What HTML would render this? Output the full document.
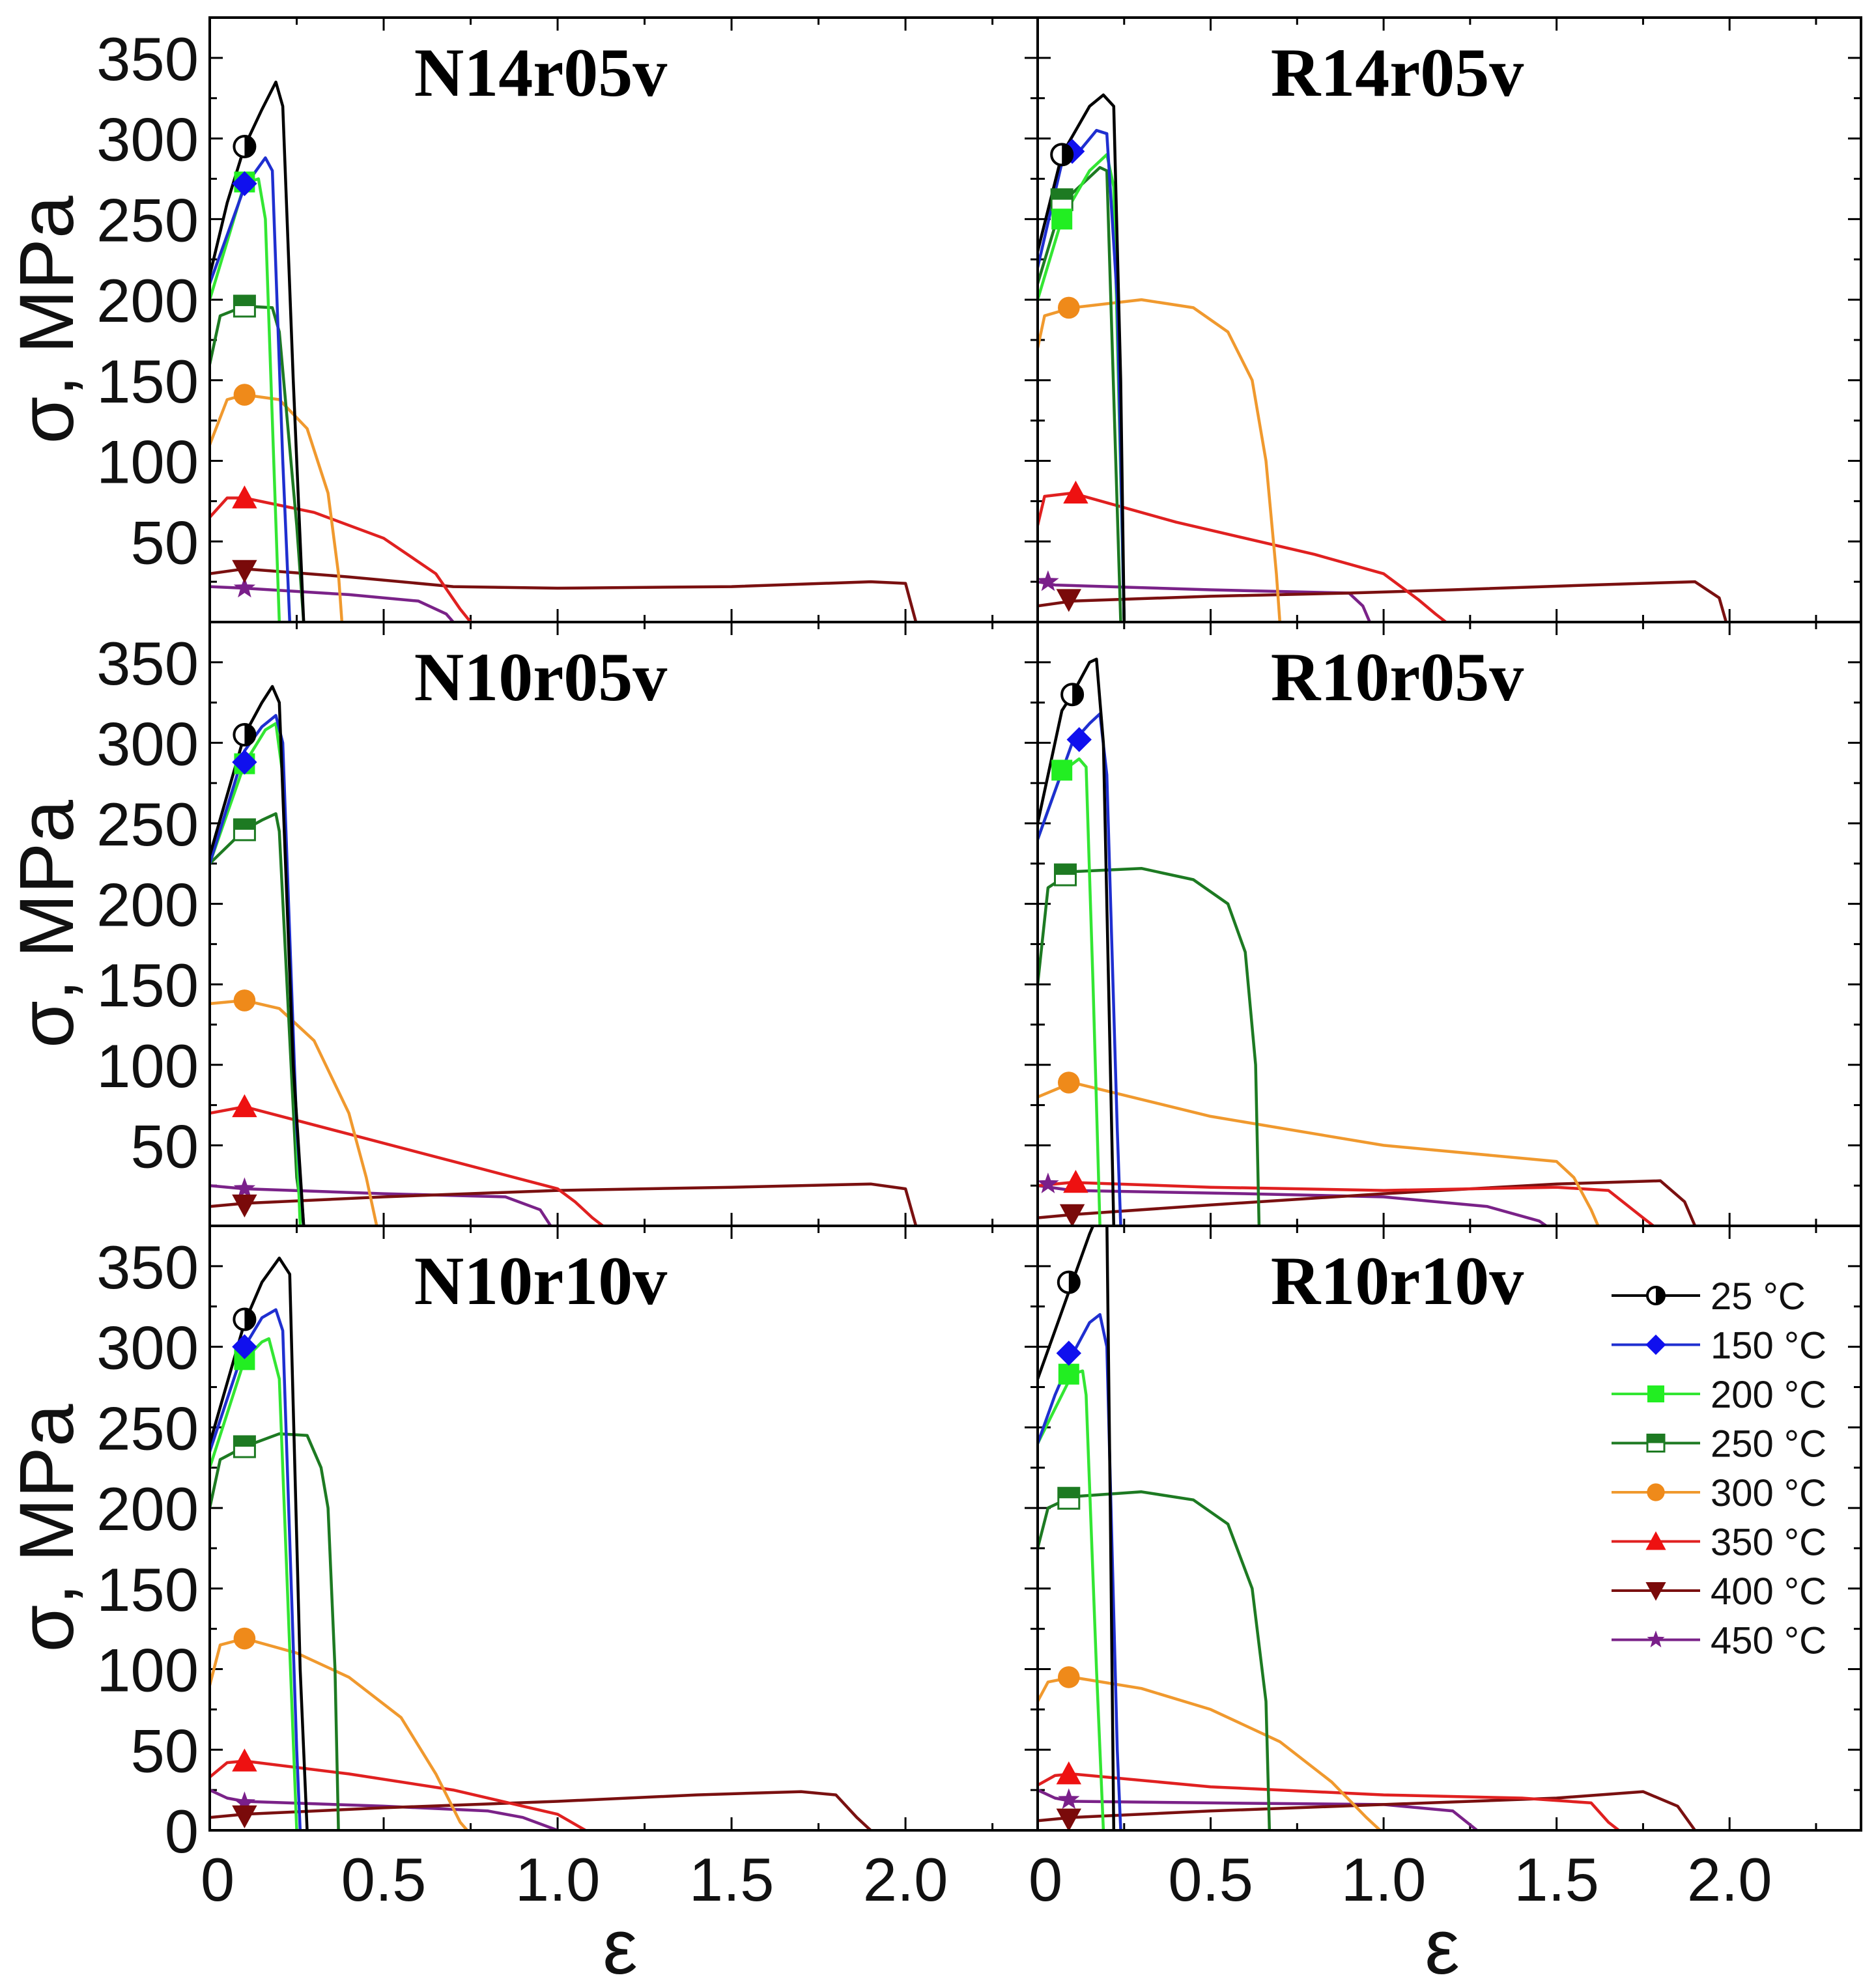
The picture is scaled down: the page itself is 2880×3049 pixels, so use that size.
<!DOCTYPE html>
<html><head><meta charset="utf-8">
<style>
html,body{margin:0;padding:0;background:#fff;}
svg{display:block;}
text{font-family:"Liberation Sans",Arial,sans-serif;}
.ttl{font-family:"Liberation Serif",serif;font-weight:bold;font-size:106px;}
.tick{font-size:94px;fill:#111;}
.leg{font-size:58px;fill:#111;}
</style></head>
<body>
<svg id="chart" width="2880" height="3049" viewBox="0 0 2880 3049" xmlns="http://www.w3.org/2000/svg">
</svg>
<script>
// ---- data ----
const temps = ["25 °C","150 °C","200 °C","250 °C","300 °C","350 °C","400 °C","450 °C"];
const colors = ["#000000","#1f2fd0","#33e633","#1d7a22","#f0992e","#e02020","#7a1010","#7a2288"];
const yTicks = [0,50,100,150,200,250,300,350];
const xTicks = [0,0.5,1.0,1.5,2.0];
const xTickLabels = ["0","0.5","1.0","1.5","2.0"];
const panelNames = ["N14r05v","R14r05v","N10r05v","R10r05v","N10r10v","R10r10v"];

const N14r05v = [
 [[0,215],[0.05,260],[0.1,295],[0.15,318],[0.19,335],[0.21,320],[0.24,150],[0.27,0]],
 [[0,210],[0.1,270],[0.16,288],[0.18,280],[0.21,100],[0.23,0]],
 [[0,200],[0.1,272],[0.14,275],[0.16,250],[0.2,0]],
 [[0,160],[0.03,190],[0.1,196],[0.18,195],[0.2,180],[0.25,60],[0.27,0]],
 [[0,110],[0.05,138],[0.1,141],[0.2,138],[0.28,120],[0.34,80],[0.37,30],[0.38,0]],
 [[0,65],[0.05,77],[0.1,77],[0.3,68],[0.5,52],[0.65,30],[0.72,8],[0.75,0]],
 [[0,30],[0.1,33],[0.4,28],[0.7,22],[1.0,21],[1.5,22],[1.9,25],[2.0,24],[2.03,0]],
 [[0,22],[0.1,21],[0.4,17],[0.6,13],[0.68,5],[0.7,0]]
];
const N14r05v_markers = [[0.1,295],[0.1,272],[0.1,273],[0.1,196],[0.1,141],[0.1,77],[0.1,32],[0.1,21]];

const R14r05v = [
 [[0,230],[0.07,290],[0.15,320],[0.19,327],[0.22,320],[0.24,150],[0.25,0]],
 [[0,220],[0.07,285],[0.12,292],[0.17,305],[0.2,303],[0.23,200],[0.25,0]],
 [[0,200],[0.07,250],[0.15,280],[0.2,290],[0.22,270],[0.25,0]],
 [[0,210],[0.07,260],[0.18,282],[0.2,280],[0.24,0]],
 [[0,170],[0.02,190],[0.1,195],[0.3,200],[0.45,195],[0.55,180],[0.62,150],[0.66,100],[0.69,30],[0.7,0]],
 [[0,60],[0.02,78],[0.1,80],[0.4,62],[0.8,42],[1.0,30],[1.1,14],[1.15,5],[1.18,0]],
 [[0,10],[0.1,13],[0.5,16],[0.9,18],[1.2,20],[1.6,23],[1.9,25],[1.97,15],[1.99,0]],
 [[0,25],[0.05,23],[0.5,20],[0.9,18],[0.94,10],[0.96,0]]
];
const R14r05v_markers = [[0.07,290],[0.1,292],[0.07,250],[0.07,262],[0.09,195],[0.11,80],[0.09,14],[0.03,25]];

const N10r05v = [
 [[0,230],[0.1,305],[0.15,325],[0.18,335],[0.2,325],[0.24,100],[0.27,0]],
 [[0,225],[0.1,295],[0.15,310],[0.19,317],[0.21,300],[0.25,60],[0.27,0]],
 [[0,225],[0.1,287],[0.16,308],[0.19,312],[0.21,280],[0.26,0]],
 [[0,225],[0.1,246],[0.15,252],[0.19,256],[0.2,245],[0.25,30],[0.27,0]],
 [[0,138],[0.1,140],[0.2,135],[0.3,115],[0.4,70],[0.45,30],[0.48,0]],
 [[0,70],[0.1,74],[0.4,57],[0.7,40],[1.0,23],[1.05,15],[1.1,5],[1.13,0]],
 [[0,12],[0.1,14],[0.5,18],[1.0,22],[1.5,24],[1.9,26],[2.0,23],[2.03,0]],
 [[0,25],[0.1,23],[0.5,20],[0.85,18],[0.95,10],[0.98,0]]
];
const N10r05v_markers = [[0.1,305],[0.1,288],[0.1,287],[0.1,246],[0.1,140],[0.1,74],[0.1,13],[0.1,23]];

const R10r05v = [
 [[0,250],[0.07,320],[0.1,330],[0.15,350],[0.17,352],[0.19,300],[0.21,100],[0.22,0]],
 [[0,240],[0.1,300],[0.15,312],[0.18,318],[0.2,280],[0.23,60],[0.24,0]],
 [[0,240],[0.07,282],[0.12,290],[0.14,285],[0.16,150],[0.18,0]],
 [[0,150],[0.03,210],[0.1,220],[0.3,222],[0.45,215],[0.55,200],[0.6,170],[0.63,100],[0.64,0]],
 [[0,80],[0.1,89],[0.5,68],[1.0,50],[1.5,40],[1.55,30],[1.6,10],[1.62,0]],
 [[0,25],[0.1,27],[0.5,24],[1.0,22],[1.5,24],[1.65,22],[1.75,5],[1.78,0]],
 [[0,5],[0.1,7],[0.5,13],[1.0,20],[1.5,26],[1.8,28],[1.87,15],[1.9,0]],
 [[0,25],[0.1,22],[0.6,20],[1.0,18],[1.3,12],[1.45,3],[1.47,0]]
];
const R10r05v_markers = [[0.1,330],[0.12,302],[0.07,283],[0.08,218],[0.09,89],[0.11,27],[0.1,7],[0.03,26]];

const N10r10v = [
 [[0,240],[0.1,315],[0.15,340],[0.2,355],[0.23,345],[0.26,100],[0.28,0]],
 [[0,235],[0.1,300],[0.15,318],[0.19,323],[0.21,310],[0.25,50],[0.26,0]],
 [[0,225],[0.1,292],[0.15,303],[0.17,305],[0.2,280],[0.25,0]],
 [[0,200],[0.03,230],[0.1,238],[0.2,246],[0.28,245],[0.32,225],[0.34,200],[0.36,100],[0.37,0]],
 [[0,90],[0.03,115],[0.1,119],[0.25,110],[0.4,95],[0.55,70],[0.65,35],[0.72,5],[0.74,0]],
 [[0,33],[0.05,42],[0.1,43],[0.4,35],[0.7,25],[0.9,15],[1.0,10],[1.08,0]],
 [[0,8],[0.1,10],[0.5,14],[1.0,18],[1.4,22],[1.7,24],[1.8,22],[1.86,8],[1.9,0]],
 [[0,25],[0.05,20],[0.1,18],[0.5,15],[0.8,12],[0.9,8],[1.0,0]]
];
const N10r10v_markers = [[0.1,317],[0.1,300],[0.1,292],[0.1,238],[0.1,119],[0.1,43],[0.1,9],[0.1,17]];

const R10r10v = [
 [[0,280],[0.05,310],[0.1,340],[0.15,370],[0.18,385],[0.2,380],[0.21,200],[0.22,0]],
 [[0,240],[0.05,270],[0.1,295],[0.15,315],[0.18,320],[0.2,300],[0.23,50],[0.24,0]],
 [[0,240],[0.1,283],[0.13,285],[0.14,270],[0.17,100],[0.19,0]],
 [[0,175],[0.03,200],[0.1,207],[0.3,210],[0.45,205],[0.55,190],[0.62,150],[0.66,80],[0.67,0]],
 [[0,80],[0.03,92],[0.1,95],[0.3,88],[0.5,75],[0.7,55],[0.85,30],[0.95,8],[0.99,0]],
 [[0,28],[0.05,34],[0.1,35],[0.5,27],[1.0,22],[1.4,20],[1.6,17],[1.65,5],[1.68,0]],
 [[0,6],[0.1,8],[0.5,12],[1.0,16],[1.5,20],[1.75,24],[1.85,15],[1.9,0]],
 [[0,25],[0.05,20],[0.1,18],[0.5,17],[1.0,16],[1.2,12],[1.27,0]]
];
const R10r10v_markers = [[0.09,340],[0.09,296],[0.09,283],[0.09,206],[0.09,95],[0.09,35],[0.09,7],[0.09,19]];

const panelSeries = [N14r05v,R14r05v,N10r05v,R10r05v,N10r10v,R10r10v];
const panelMarkers = [N14r05v_markers,R14r05v_markers,N10r05v_markers,R10r05v_markers,N10r10v_markers,R10r10v_markers];

// ---- layout ----
const NS = "http://www.w3.org/2000/svg";
const svg = document.getElementById("chart");
const colX = [322, 1593], colW = [1271, 1264];
const rowY = [27, 955, 1882], rowH = [928, 927, 928];
const XMAX = 2.38, YMAX = 375;

function mk(tag, attrs, parent){
  const e = document.createElementNS(NS, tag);
  for (const k in attrs) e.setAttribute(k, attrs[k]);
  (parent||svg).appendChild(e);
  return e;
}
function sx(p, v){ return colX[p%2] + v / XMAX * colW[p%2]; }
function sy(p, v){ const r = Math.floor(p/2); return rowY[r] + rowH[r] - v / YMAX * rowH[r]; }

function marker(g, k, x, y, s){
  const c = colors[k];
  let e;
  if (k === 0){
    e = mk("circle",{cx:x,cy:y,r:s,fill:"#fff",stroke:"#000","stroke-width":4},g);
    
    
    const h = mk("path",{d:`M${x},${y-s} A${s},${s} 0 0 1 ${x},${y+s} Z`,fill:"#000"},g);
    
    
    return;
  }
  if (k === 1) e = mk("polygon",{points:`${x},${y-s*1.2} ${x+s*1.2},${y} ${x},${y+s*1.2} ${x-s*1.2},${y}`,fill:"#1010ee"},g);
  else if (k === 2) e = mk("rect",{x:x-s,y:y-s,width:2*s,height:2*s,fill:"#22ee22"},g);
  else if (k === 3){
    e = mk("rect",{x:x-s,y:y-s,width:2*s,height:2*s,fill:"#fff",stroke:c,"stroke-width":3},g);
    const t = mk("rect",{x:x-s,y:y-s,width:2*s,height:s,fill:c},g);
    
    
  }
  else if (k === 4) e = mk("circle",{cx:x,cy:y,r:s*1.05,fill:"#ef8a1a"},g);
  else if (k === 5) e = mk("polygon",{points:`${x},${y-s*1.2} ${x+s*1.2},${y+s} ${x-s*1.2},${y+s}`,fill:"#ee1111"},g);
  else if (k === 6) e = mk("polygon",{points:`${x},${y+s*1.2} ${x+s*1.2},${y-s} ${x-s*1.2},${y-s}`,fill:"#7a0a0a"},g);
  else {
    let pts = [];
    for (let i=0;i<10;i++){ const a=-Math.PI/2+i*Math.PI/5; const r=i%2?s*0.45:s*1.1; pts.push((x+r*Math.cos(a)).toFixed(1)+","+(y+r*Math.sin(a)).toFixed(1)); }
    e = mk("polygon",{points:pts.join(" "),fill:"#7a1f8a"},g);
  }
  
  
}

const defs = mk("defs",{});
for (let p=0;p<6;p++){
  const r = Math.floor(p/2), c = p%2;
  const cp = mk("clipPath",{id:"clip"+p},defs);
  mk("rect",{x:colX[c],y:rowY[r],width:colW[c],height:rowH[r]},cp);

  const g = mk("g",{});
  
  

  for (let v=0; v<=YMAX; v+=25){
    const y = sy(p,v), L = v%50===0?20:11;
    const t = mk("line",{x1:colX[c],x2:colX[c]+L,y1:y,y2:y,stroke:"#000","stroke-width":3},g);
    
    
    const t2 = mk("line",{x1:colX[c]+colW[c],x2:colX[c]+colW[c]-L,y1:y,y2:y,stroke:"#000","stroke-width":3},g);
    
    
  }
  for (let v=0; v<=XMAX; v+=0.25){
    const x = sx(p,v), L = (Math.round(v*4)%2===0)?20:11;
    const yb = rowY[r]+rowH[r];
    const t = mk("line",{x1:x,x2:x,y1:yb,y2:yb-L,stroke:"#000","stroke-width":3},g);
    
    
    const t2 = mk("line",{x1:x,x2:x,y1:rowY[r],y2:rowY[r]+L,stroke:"#000","stroke-width":3},g);
    
    
  }

  const cg = mk("g",{"clip-path":`url(#clip${p})`},g);
  
  
  for (let k=7;k>=0;k--){
    const d = panelSeries[p][k].map((pt,i)=>(i?"L":"M")+sx(p,pt[0]).toFixed(1)+","+sy(p,pt[1]).toFixed(1)).join(" ");
    const path = mk("path",{d:d,fill:"none",stroke:colors[k],"stroke-width":4.5,"stroke-linejoin":"round"},cg);
    
    
  }
  for (let k=7;k>=0;k--){
    const m = panelMarkers[p][k];
    marker(cg,k,sx(p,m[0]),sy(p,m[1]),16);
  }

  const fr = mk("rect",{x:colX[c],y:rowY[r],width:colW[c],height:rowH[r],fill:"none",stroke:"#000","stroke-width":4},g);
  
  

  const tt = mk("text",{x:c?2145:830,y:rowY[r]+120,"text-anchor":"middle",class:"ttl"},g);
  tt.textContent = panelNames[p];
  
  

  if (c===0){
    for (const v of yTicks){
      if (v===0 && r<2) continue;
      const tl = mk("text",{x:305,y:sy(p,v)+34,"text-anchor":"end",class:"tick"},g);
      tl.textContent = String(v);
      
      
    }
    const yt = mk("text",{transform:`translate(112,${rowY[r]+rowH[r]/2}) rotate(-90)`,"text-anchor":"middle",style:"font-size:118px",fill:"#111"},g);
    yt.textContent = "σ, MPa";
    
    
  }
  if (r===2){
    xTicks.forEach((v,i)=>{
      const xl = mk("text",{x:sx(p,v)+(v===0?12:0),y:2918,"text-anchor":"middle",class:"tick"},g);
      xl.textContent = xTickLabels[i];
      
      
    });
    const xt = mk("text",{x:c?2214:952,y:3030,"text-anchor":"middle",style:"font-size:120px",fill:"#111"},g);
    xt.textContent = "ε";
    
    
  }
}

const lg = mk("g",{});


for (let k=0;k<8;k++){
  const y = 1989 + k*75.5;
  const eg = mk("g",{},lg);
  
  
  const ln = mk("line",{x1:2474,x2:2610,y1:y,y2:y,stroke:colors[k],"stroke-width":4},eg);
  
  
  marker(eg,k,2542,y,13);
  const tx = mk("text",{x:2626,y:y+21,class:"leg"},eg);
  tx.textContent = temps[k];
  
  
}
</script>
</body></html>
